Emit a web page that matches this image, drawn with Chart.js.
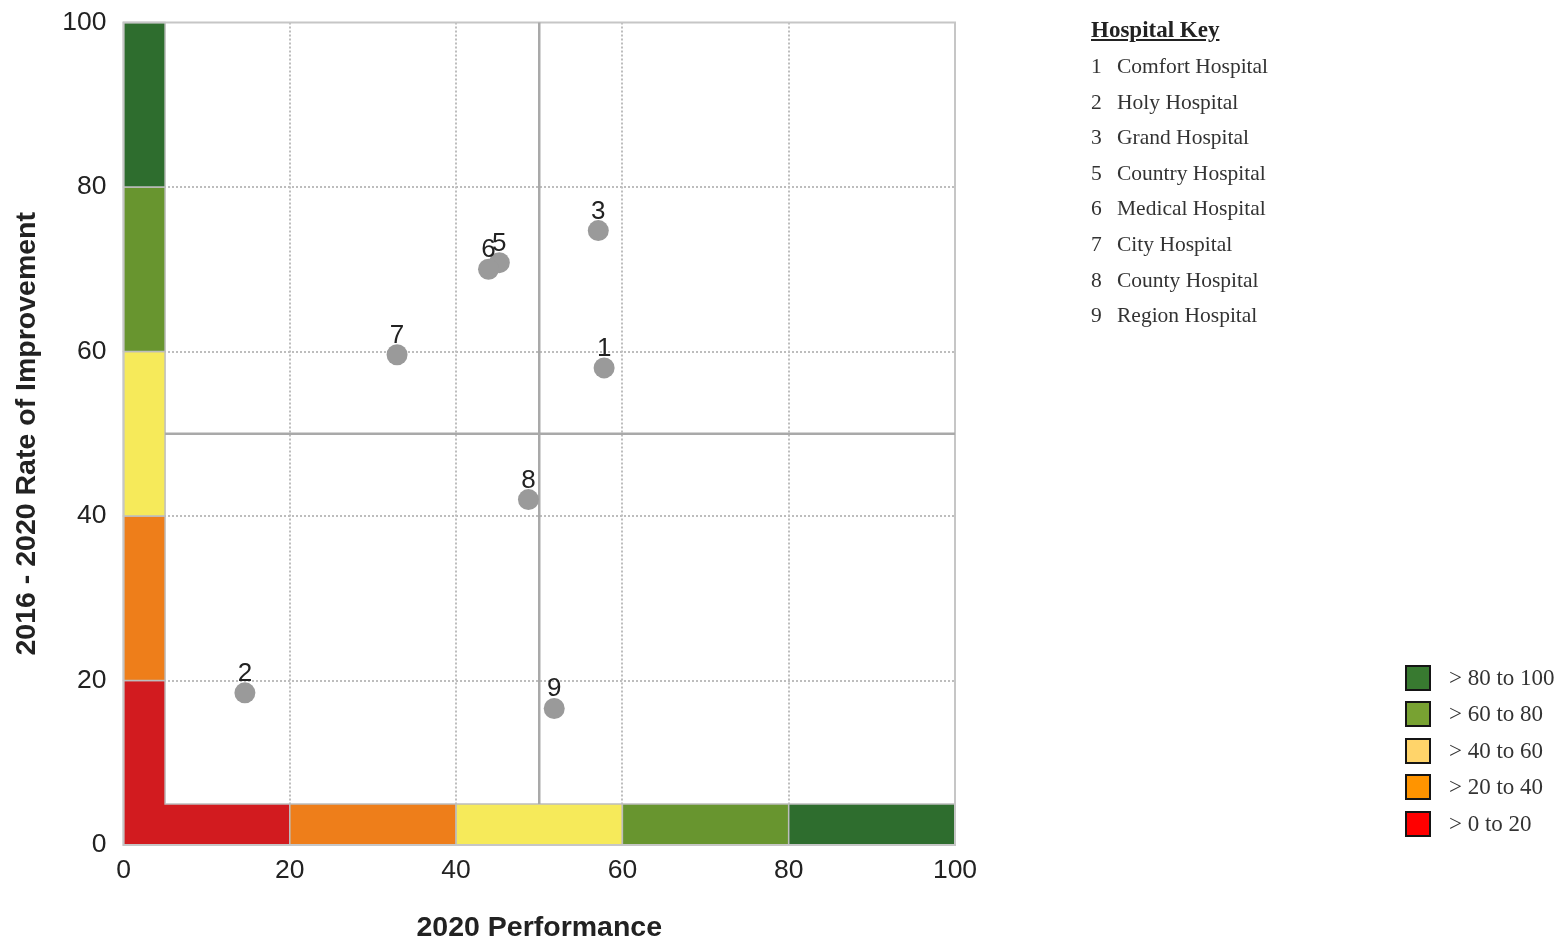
<!DOCTYPE html>
<html>
<head>
<meta charset="utf-8">
<script src="https://cdn.jsdelivr.net/npm/chart.js@4"></script>
<style>
  body { margin: 0; background: #fff; }
  #wrap { position: relative; width: 1564px; height: 942px; }
  #chart { position: absolute; left: 0; top: 0; }
  .key-title { position: absolute; left: 1091px; top: 15px; font: bold 23px "Liberation Serif", serif; color: #222; text-decoration: underline; line-height: 30px; }
  .key-row { position: absolute; left: 1091px; font: 21.5px "Liberation Serif", serif; color: #333; line-height: 26px; white-space: nowrap; }
  .key-row span { display: inline-block; width: 26px; }
  .band-row { position: absolute; left: 1405px; font: 23px "Liberation Serif", serif; color: #333; line-height: 26px; white-space: nowrap; }
  .band-row i { display: inline-block; box-sizing: border-box; width: 26px; height: 26px; border: 2px solid #151515; vertical-align: top; margin-right: 18px; }
</style>
</head>
<body>
<div id="wrap">
  <canvas id="chart" width="1564" height="942"></canvas>
  <div id="legends"></div>
</div>
<script>
// hospitals (id shown on the chart), 2020 performance and improvement
var hospitalIds = [1, 2, 3, 5, 6, 7, 8, 9];
var hospitalNames = ['Comfort Hospital', 'Holy Hospital', 'Grand Hospital', 'Country Hospital',
    'Medical Hospital', 'City Hospital', 'County Hospital', 'Region Hospital'];
var performance = [57.8, 14.6, 57.1, 45.2, 43.9, 32.9, 48.7, 51.8];
var improvement = [58.0, 18.5, 74.7, 70.8, 70.0, 59.6, 42.0, 16.6];

// colour bands along both axes
var bandEdges = [0, 20, 40, 60, 80, 100];
var bandColors = ['#d21b1f', '#ee7e1a', '#f6ea5a', '#68952f', '#2e6d2e'];
var bandStrip = 5;
var quadrantX = 50;
var quadrantY = 50;

// colour key at bottom right
var rangeLabels = ['> 80 to 100', '> 60 to 80', '> 40 to 60', '> 20 to 40', '> 0 to 20'];
var rangeColors = ['#387a30', '#78a232', '#ffd46a', '#ff9400', '#ff0000'];

var points = [];
for (var i = 0; i < hospitalIds.length; i++) {
    points.push({x: performance[i], y: improvement[i], id: hospitalIds[i]});
}

var bandPlugin = {
    id: 'bands',
    beforeDatasetsDraw: function(chart) {
        var ctx = chart.ctx, a = chart.chartArea;
        var sx = chart.scales.x, sy = chart.scales.y;
        function px(v) { return sx.getPixelForValue(v); }
        function py(v) { return sy.getPixelForValue(v); }
        ctx.save();
        for (var i = 0; i < bandColors.length; i++) {
            var lo = bandEdges[i], hi = bandEdges[i + 1];
            ctx.beginPath();
            if (i === 0) {
                ctx.moveTo(px(0), py(0));
                ctx.lineTo(px(hi), py(0));
                ctx.lineTo(px(hi), py(bandStrip));
                ctx.lineTo(px(bandStrip), py(bandStrip));
                ctx.lineTo(px(bandStrip), py(hi));
                ctx.lineTo(px(0), py(hi));
                ctx.closePath();
            } else {
                ctx.rect(px(0), py(hi), px(bandStrip) - px(0), py(lo) - py(hi));
                ctx.rect(px(lo), py(bandStrip), px(hi) - px(lo), py(0) - py(bandStrip));
            }
            ctx.fillStyle = bandColors[i];
            ctx.fill();
            ctx.lineWidth = 1.5;
            ctx.strokeStyle = '#bdbdbd';
            ctx.stroke();
        }
        // frame
        ctx.lineWidth = 2;
        ctx.strokeStyle = '#c6c6c6';
        ctx.strokeRect(a.left, a.top, a.right - a.left, a.bottom - a.top);
        // quadrant lines
        ctx.lineWidth = 2.5;
        ctx.strokeStyle = '#a9a9a9';
        ctx.beginPath();
        ctx.moveTo(px(quadrantX), py(bandStrip));
        ctx.lineTo(px(quadrantX), py(100));
        ctx.moveTo(px(bandStrip), py(quadrantY));
        ctx.lineTo(px(100), py(quadrantY));
        ctx.stroke();
        ctx.restore();
    },
    afterDatasetsDraw: function(chart) {
        var ctx = chart.ctx;
        var meta = chart.getDatasetMeta(0);
        ctx.save();
        ctx.font = '26px "Liberation Sans", Arial, sans-serif';
        ctx.fillStyle = '#222';
        ctx.textAlign = 'center';
        ctx.textBaseline = 'alphabetic';
        meta.data.forEach(function(el, i) {
            ctx.fillText(String(points[i].id), el.x, el.y - 12);
        });
        ctx.restore();
    }
};

function gridColor(c) {
    var v = c.tick ? c.tick.value : null;
    return (v === 0 || v === 100) ? 'rgba(0,0,0,0)' : '#bdbdbd';
}

var tickFont = {family: '"Liberation Sans", Arial, sans-serif', size: 26.5};
var titleFont = {family: '"Liberation Sans", Arial, sans-serif', size: 28.5, weight: 'bold'};

new Chart(document.getElementById('chart'), {
    type: 'scatter',
    data: {
        datasets: [{
            data: points,
            backgroundColor: '#9a9a9a',
            borderWidth: 0,
            pointRadius: 10.5,
            pointHoverRadius: 10.5
        }]
    },
    options: {
        responsive: false,
        animation: false,
        layout: {padding: {top: 22.5, right: 609, bottom: 0, left: 0}},
        plugins: {legend: {display: false}, tooltip: {enabled: false}},
        scales: {
            x: {
                min: 0, max: 100,
                ticks: {stepSize: 20, font: tickFont, color: '#222', padding: 10, maxRotation: 0},
                grid: {color: gridColor, lineWidth: 2, drawTicks: false},
                border: {display: false, dash: [2, 2]},
                title: {display: true, text: '2020 Performance', font: titleFont, color: '#222', padding: {top: 0, bottom: -3}},
                afterFit: function(s) { s.height = 97; s.paddingLeft = 0; s.paddingRight = 0; }
            },
            y: {
                min: 0, max: 100,
                ticks: {stepSize: 20, font: tickFont, color: '#222', padding: 17},
                grid: {color: gridColor, lineWidth: 2, drawTicks: false},
                border: {display: false, dash: [2, 2]},
                title: {display: true, text: '2016 - 2020 Rate of Improvement', font: titleFont, color: '#222', padding: {top: 10, bottom: 0}},
                afterFit: function(s) { s.width = 123.5; s.paddingTop = 0; s.paddingBottom = 0; }
            }
        }
    },
    plugins: [bandPlugin]
});

// hospital key and colour key
var html = '<div class="key-title">Hospital Key</div>';
for (var k = 0; k < hospitalIds.length; k++) {
    html += '<div class="key-row" style="top:' + (53 + k * 35.6) + 'px"><span>' + hospitalIds[k] + '</span>' + hospitalNames[k] + '</div>';
}
for (var r = 0; r < rangeLabels.length; r++) {
    html += '<div class="band-row" style="top:' + (665 + r * 36.4) + 'px"><i style="background:' + rangeColors[r] + '"></i>' + rangeLabels[r] + '</div>';
}
document.getElementById('legends').innerHTML = html;
</script>
</body>
</html>
